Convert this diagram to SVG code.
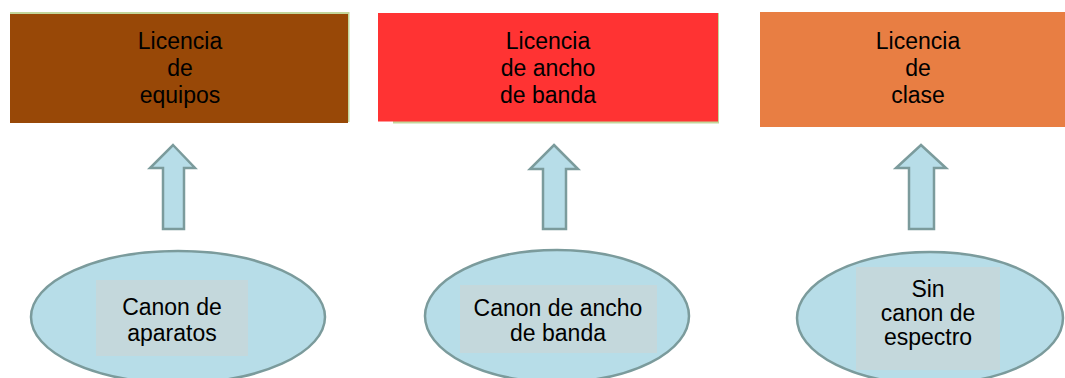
<svg xmlns="http://www.w3.org/2000/svg" width="1065" height="378" viewBox="0 0 1065 378">
<style>
text{font-family:"Liberation Sans",Arial,sans-serif;font-size:23px;fill:#000;text-anchor:middle}
.arr{fill:#b7dde8;stroke:#7b9b9c;stroke-width:2.5;stroke-linejoin:miter}
.ell{fill:#b7dde8;stroke:#7b9b9c;stroke-width:2.5}
.lab{fill:#c4d8dc}
</style>
<rect width="1065" height="378" fill="#fff"/>
<g id="box-equipos">
<rect x="10" y="12" width="339.5" height="110" fill="#c3d69b"/>
<rect x="10" y="14" width="338" height="109" fill="#984807"/>
<text x="180" y="49">Licencia</text>
<text x="180" y="76">de</text>
<text x="180" y="103">equipos</text>
</g>
<g id="box-ancho">
<rect x="393" y="13" width="326" height="110.5" fill="#c3d69b"/>
<rect x="378" y="13" width="340" height="108.5" fill="#ff3333"/>
<text x="548" y="49">Licencia</text>
<text x="548" y="76">de ancho</text>
<text x="548" y="103">de banda</text>
</g>
<g id="box-clase">
<rect x="760" y="12" width="305" height="115" fill="#e87e43"/>
<text x="918" y="49">Licencia</text>
<text x="918" y="76">de</text>
<text x="918" y="103">clase</text>
</g>
<g id="connectors">
<path class="arr" d="M173,145 L195,168 L184,168 L184,229 L163,229 L163,168 L150,168 Z"/>
<path class="arr" d="M554,145 L578,169 L566,169 L566,229 L543,229 L543,169 L530,169 Z"/>
<path class="arr" d="M921,145 L946,168 L934,168 L934,229 L909,229 L909,168 L896,168 Z"/>
</g>
<g id="fee-aparatos">
<ellipse class="ell" cx="178" cy="317" rx="147" ry="66"/>
<rect class="lab" x="96" y="280" width="152" height="76"/>
<text x="172" y="315">Canon de</text>
<text x="172" y="341">aparatos</text>
</g>
<g id="fee-ancho">
<ellipse class="ell" cx="557" cy="316" rx="132" ry="66"/>
<rect class="lab" x="460" y="285" width="197" height="68"/>
<text x="558" y="316">Canon de ancho</text>
<text x="558" y="341">de banda</text>
</g>
<g id="fee-espectro">
<ellipse class="ell" cx="930" cy="318" rx="133" ry="66"/>
<rect class="lab" x="856" y="267" width="144" height="103"/>
<text x="928" y="297">Sin</text>
<text x="928" y="321">canon de</text>
<text x="928" y="345">espectro</text>
</g>
</svg>
